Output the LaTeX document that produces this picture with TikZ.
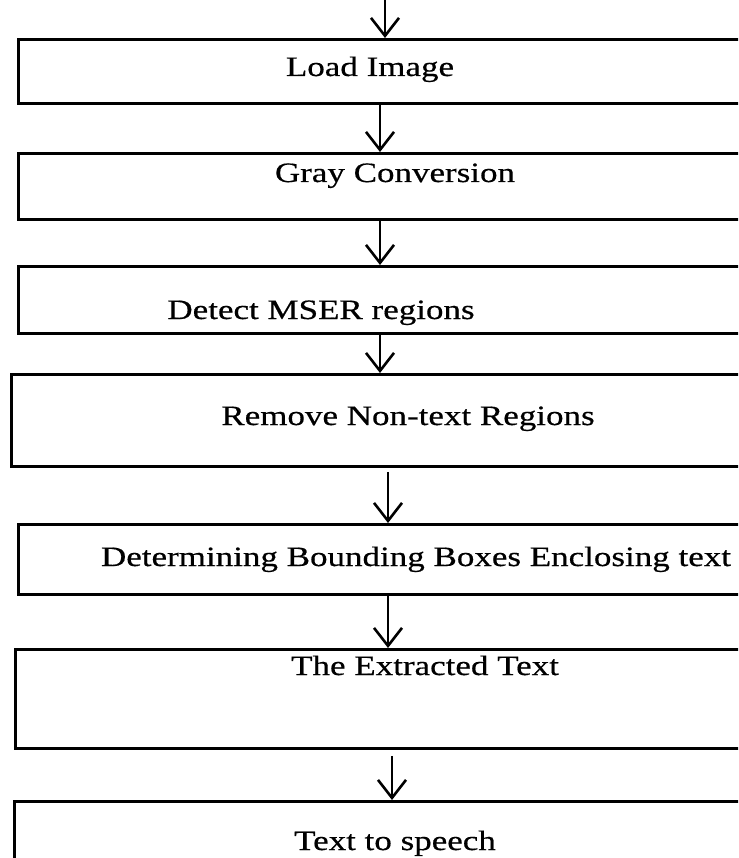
\documentclass[tikz,border=0pt]{standalone}
\usepackage{fontspec}
\setmainfont{Liberation Serif}[FakeStretch=1.25, FakeBold=0.5]
\usetikzlibrary{arrows.meta}

\begin{document}
\begin{tikzpicture}[x=1pt, y=-1pt,
    caja/.style={draw, line width=2.8pt, rectangle, anchor=north west, inner sep=0pt},
    texto/.style={anchor=base, inner sep=0pt, font=\fontsize{28}{34}\selectfont},
    flecha/.style={line width=2.6pt, -{Straight Barb[length=18pt, width=28pt, line width=2.6pt]}}]
    \useasboundingbox (0,0) rectangle (738,858);
    \clip (0,0) rectangle (738,858);

    % Cajas
    \node[caja, minimum width=753, minimum height=64] (b1) at (17,38) {};
    \node[caja, minimum width=753, minimum height=66] (b2) at (17,152) {};
    \node[caja, minimum width=753, minimum height=67] (b3) at (17,265) {};
    \node[caja, minimum width=760, minimum height=92] (b4) at (10,373) {};
    \node[caja, minimum width=753, minimum height=70] (b5) at (17,523) {};
    \node[caja, minimum width=756, minimum height=99] (b6) at (14,648) {};
    \node[caja, minimum width=757, minimum height=100] (b7) at (13,800) {};

    % Textos
    \node[texto] (t1) at (370,76) {Load Image};
    \node[texto] (t2) at (395,182) {Gray Conversion};
    \node[texto] (t3) at (321,319) {Detect MSER regions};
    \node[texto] (t4) at (408,425) {Remove Non-text Regions};
    \node[texto] (t5) at (416,566) {Determining Bounding Boxes Enclosing text};
    \node[texto] (t6) at (425,675) {The Extracted Text};
    \node[texto] (t7) at (395,850) {Text to speech};

    % Flechas
    \coordinate (inicio) at (385,0);
    \draw[flecha] (inicio) -- (b1.north -| inicio);
    \draw[flecha] (b1.south -| 380,0) -- (b2.north -| 380,0);
    \draw[flecha] (b2.south -| 380,0) -- (b3.north -| 380,0);
    \draw[flecha] (b3.south -| 380,0) -- (b4.north -| 380,0);
    \draw[flecha, shorten <=4pt] (b4.south -| 388,0) -- (b5.north -| 388,0);
    \draw[flecha] (b5.south -| 388,0) -- (b6.north -| 388,0);
    \draw[flecha, shorten <=6pt] (b6.south -| 392,0) -- (b7.north -| 392,0);
\end{tikzpicture}
\end{document}
